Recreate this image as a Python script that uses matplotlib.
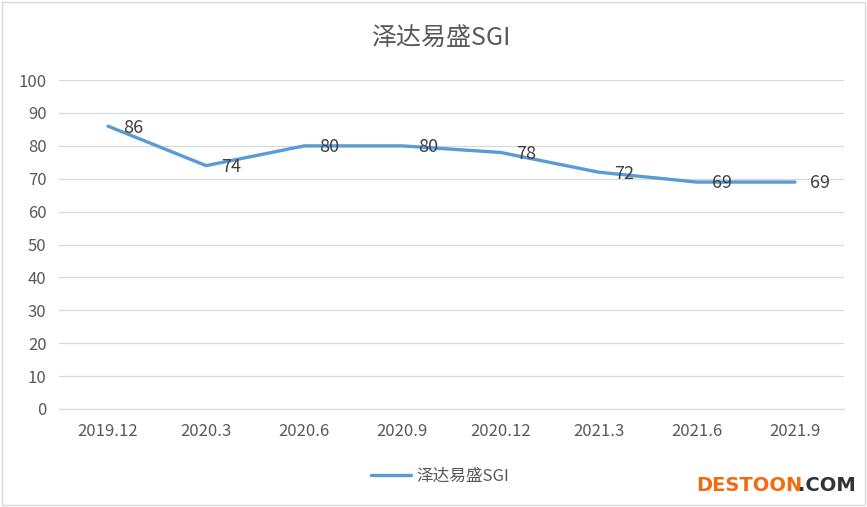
import matplotlib.pyplot as plt
from matplotlib.patches import Rectangle

plt.rcParams['font.family'] = ['Noto Sans CJK SC', 'DejaVu Sans']

# data
periods = ['2019.12', '2020.3', '2020.6', '2020.9', '2020.12', '2021.3', '2021.6', '2021.9']
sgi = [86, 74, 80, 80, 78, 72, 69, 69]
series_name = '泽达易盛SGI'
yticks = [0, 10, 20, 30, 40, 50, 60, 70, 80, 90, 100]

line_color = '#5b9bd5'
text_color = '#595959'

fig = plt.figure(figsize=(8.67, 5.07), dpi=100)
ax = fig.add_axes([0.068, 0.1933, 0.9055, 0.6487])

x = list(range(len(periods)))
ax.plot(x, sgi, color=line_color, linewidth=2.4, solid_capstyle='round',
        label=series_name)

# data labels to the right of each point
for xi, v in zip(x, sgi):
    ax.annotate(str(v), (xi, v), xytext=(11, -1), textcoords='offset points',
                ha='left', va='center', fontsize=13, color='#404040')

ax.set_xlim(-0.5, len(periods) - 0.5)
ax.set_ylim(0, 100)
ax.set_yticks(yticks)
ax.set_xticks(x)
ax.set_xticklabels(periods)
ax.tick_params(axis='both', length=0, labelsize=12, labelcolor=text_color)
ax.tick_params(axis='x', pad=10)
ax.tick_params(axis='y', pad=9)

ax.grid(axis='y', color='#d9d9d9', linewidth=0.9)
ax.set_axisbelow(True)
for s in ['top', 'right', 'left']:
    ax.spines[s].set_visible(False)
ax.spines['bottom'].set_color('#d9d9d9')

fig.suptitle(series_name, x=0.508, y=0.95, fontsize=18, color=text_color)

fig.legend(loc='center', bbox_to_anchor=(0.508, 0.061), frameon=False,
           fontsize=12, labelcolor=text_color, handlelength=2.4,
           handletextpad=0.3)

# chart border
fig.patches.append(Rectangle((0.002, 0.004), 0.996, 0.992, transform=fig.transFigure,
                             fill=False, edgecolor='#d9d9d9', linewidth=1))

# watermark
fig.text(0.803, 0.043, 'DESTOON', color='#f26b10', fontsize=14, fontweight='bold',
         ha='left', va='center', family='DejaVu Sans')
fig.text(0.920, 0.043, '.COM', color='#333333', fontsize=14, fontweight='bold',
         ha='left', va='center', family='DejaVu Sans')

fig.savefig('out.png', dpi=100)
